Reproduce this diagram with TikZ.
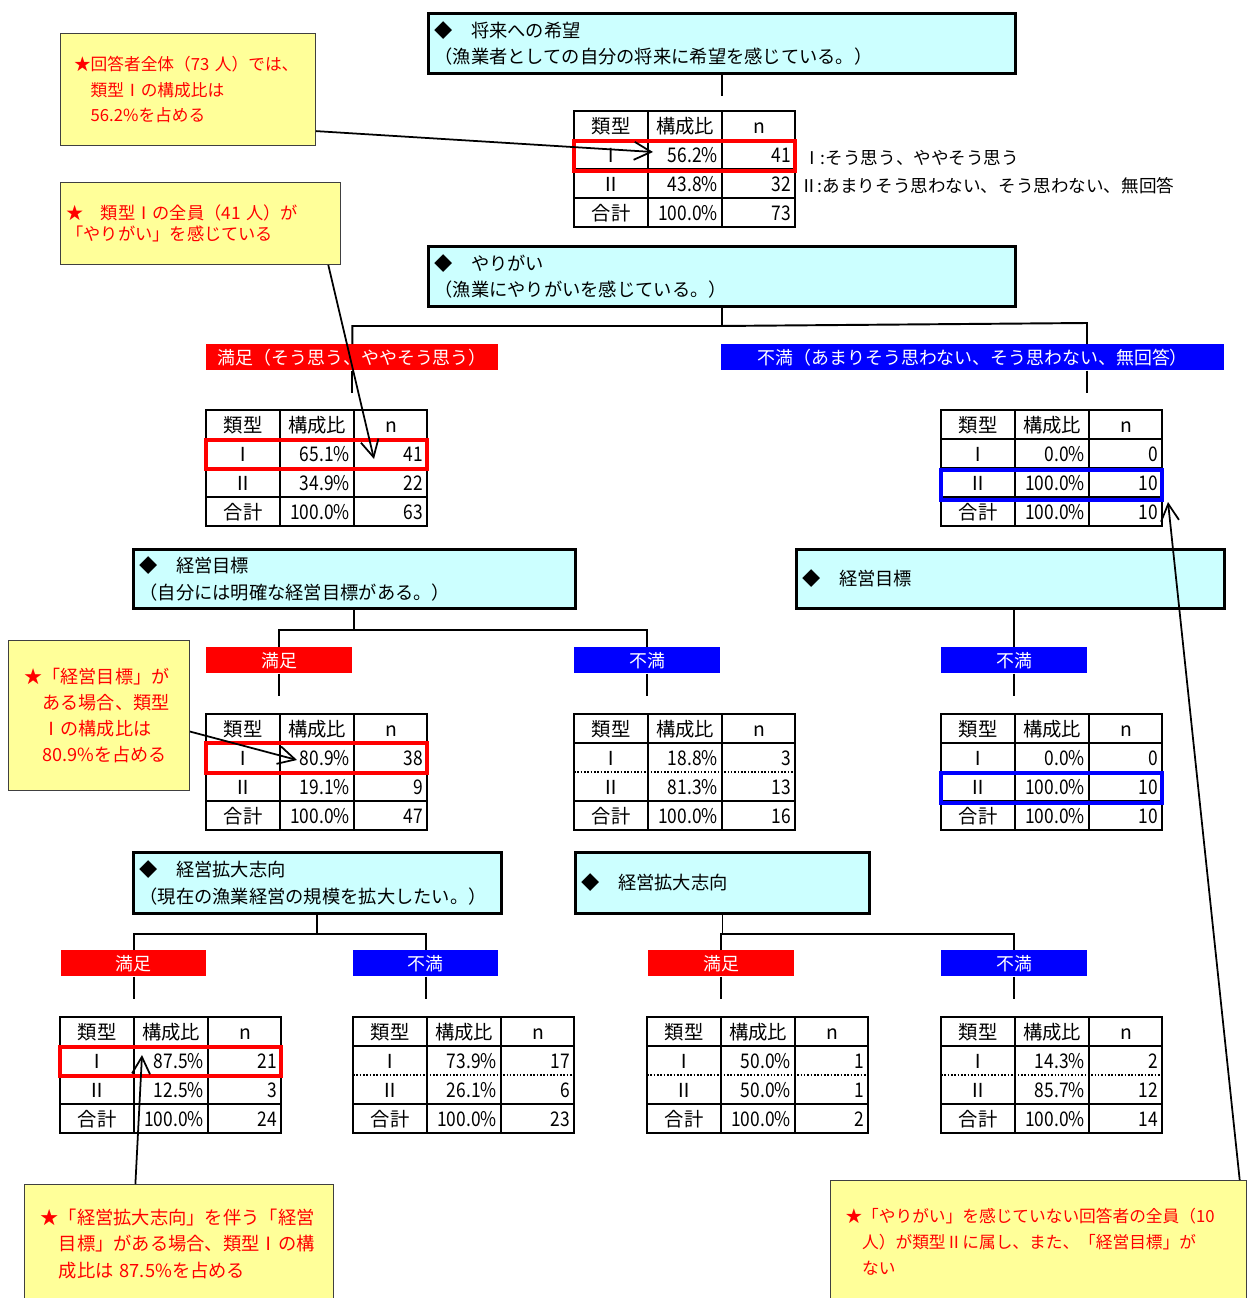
\documentclass[tikz,border=0pt]{standalone}
\usepackage{fontspec}
\setmainfont{Noto Sans CJK JP}
\newfontfamily\narrowfam{Noto Sans CJK JP}[FakeStretch=0.86]
\usepackage{tikz}
\usetikzlibrary{arrows.meta,positioning,calc}
\definecolor{HdrCyan}{HTML}{CCFFFF}
\definecolor{NoteYellow}{HTML}{FFFF99}
\definecolor{BarRed}{HTML}{FF0000}
\definecolor{BarBlue}{HTML}{0000FF}
\newcommand{\hdfnt}{\fontsize{10.4pt}{15.3pt}\selectfont}
\newcommand{\tabfnt}{\fontsize{11pt}{13pt}\selectfont}
\newcommand{\numfnt}{\narrowfam\fontsize{11.5pt}{13pt}\selectfont}
\newcommand{\notefnt}{\fontsize{9.5pt}{14.7pt}\selectfont}
\newcommand{\barfnt}{\fontsize{10.2pt}{12pt}\selectfont}
\newcommand{\ratiotbl}[9]{%
  \node[tblbox] (#1) at #2 {};
  \draw[tblrule] ($(#1.north west)+(74,0)$) -- ++(0,116)
                 ($(#1.north west)+(148,0)$) -- ++(0,116)
                 ($(#1.north west)+(0,29)$) -- ++(221,0)
                 ($(#1.north west)+(0,87)$) -- ++(221,0);
  \draw[tblrule,#3] ($(#1.north west)+(0,58)$) -- ++(221,0);
  \node[cell] (#1-k) at ($(#1.north west)+(37,22)$) {類型};
  \node[cell] (#1-r) at ($(#1.north west)+(111,22)$) {構成比};
  \node[cell] (#1-n) at ($(#1.north west)+(185,22)$) {n};
  \node[cell] (#1-1) at ($(#1.north west)+(37,51)$) {Ⅰ};
  \node[num] (#1-1p) at ($(#1.north west)+(144,51)$) {#4};
  \node[num] (#1-1n) at ($(#1.north west)+(217,51)$) {#5};
  \node[cell] (#1-2) at ($(#1.north west)+(37,80)$) {Ⅱ};
  \node[num] (#1-2p) at ($(#1.north west)+(144,80)$) {#6};
  \node[num] (#1-2n) at ($(#1.north west)+(217,80)$) {#7};
  \node[cell] (#1-3) at ($(#1.north west)+(37,109)$) {合計};
  \node[num] (#1-3p) at ($(#1.north west)+(144,109)$) {#8};
  \node[num] (#1-3n) at ($(#1.north west)+(217,109)$) {#9};
}

\begin{document}
\begin{tikzpicture}[x=0.02cm,y=-0.02cm,
    hdr/.style={draw,line width=1.7pt,fill=HdrCyan,anchor=north west,
                inner xsep=0pt,align=left,font=\hdfnt},
    lbl/.style={fill=#1,text=white,anchor=north west,minimum height=0.52cm,
                inner sep=0pt,font=\barfnt},
    tblbox/.style={draw,line width=1.4pt,anchor=north west,minimum width=4.42cm,
                   minimum height=2.32cm,inner sep=0pt,outer sep=0pt},
    tblrule/.style={line width=0.9pt},
    cell/.style={anchor=base,inner sep=0pt,font=\tabfnt},
    num/.style={cell,anchor=base east,font=\numfnt},
    hl/.style={draw=#1,line width=2.2pt},
    ln/.style={line width=1.1pt},
    co/.style={draw=black!75,line width=0.6pt,fill=NoteYellow,text=BarRed,
               anchor=north west,align=left,inner xsep=0pt,font=\notefnt},
    ar/.style={-{Straight Barb[length=3.4mm,width=3.6mm]},line width=1pt}]
\useasboundingbox (0,0) rectangle (1247,1298);

\node[co,minimum width=5.1cm,minimum height=2.24cm,text width=4.56cm] (c1) at (60,33)
  {★回答者全体（73~人）では、\\　類型Ⅰの構成比は\\　56.2\%を占める};
\node[co,minimum width=5.6cm,minimum height=1.64cm,text width=5.36cm,
      font=\fontsize{9.8pt}{11.9pt}\selectfont] (c2) at (60,182)
  {★　類型Ⅰの全員（41~人）が\\「やりがい」を感じている};
\node[co,minimum width=3.62cm,minimum height=3cm,text width=2.98cm,
      font=\fontsize{10.3pt}{14.9pt}\selectfont] (c3) at (8,640)
  {★「経営目標」が\\　ある場合、類型\\　Ⅰの構成比は\\　80.9\%を占める};
\node[co,minimum width=6.18cm,minimum height=2.38cm,text width=5.54cm,
      font=\fontsize{10.4pt}{15pt}\selectfont] (c4) at (24,1184)
  {★「経営拡大志向」を伴う「経営\\　目標」がある場合、類型Ⅰの構\\　成比は~87.5\%を占める};
\node[co,minimum width=8.32cm,minimum height=2.44cm,text width=7.72cm] (c5) at (830,1180)
  {★「やりがい」を感じていない回答者の全員（10\\　人）が類型Ⅱに属し、また、「経営目標」が\\　ない};

\node[hdr,minimum width=11.74cm,minimum height=1.2cm,text width=11.5cm] (h1) at (427,12)
  {◆　将来への希望\\（漁業者としての自分の将来に希望を感じている。）};
\node[hdr,minimum width=11.74cm,minimum height=1.2cm,text width=11.5cm] (h2) at (427,245)
  {◆　やりがい\\（漁業にやりがいを感じている。）};
\node[hdr,minimum width=8.84cm,minimum height=1.18cm,text width=8.6cm] (h3) at (132,548)
  {◆　経営目標\\（自分には明確な経営目標がある。）};
\node[hdr,minimum width=8.56cm,minimum height=1.18cm,text width=8.32cm] (h4) at (795,548)
  {◆　経営目標};
\node[hdr,minimum width=7.36cm,minimum height=1.22cm,text width=7.12cm] (h5) at (132,851)
  {◆　経営拡大志向\\（現在の漁業経営の規模を拡大したい。）};
\node[hdr,minimum width=5.88cm,minimum height=1.22cm,text width=5.64cm] (h6) at (574,851)
  {◆　経営拡大志向};

\node[lbl=BarRed,minimum width=5.84cm] (l1) at (206,344) {満足（そう思う、ややそう思う）};
\node[lbl=BarBlue,minimum width=10.06cm] (l2) at (721,344) {不満（あまりそう思わない、そう思わない、無回答）};
\node[lbl=BarRed,minimum width=2.92cm] (l3) at (206,647) {満足};
\node[lbl=BarBlue,minimum width=2.92cm] (l4) at (574,647) {不満};
\node[lbl=BarBlue,minimum width=2.92cm] (l5) at (941,647) {不満};
\node[lbl=BarRed,minimum width=2.9cm] (l6) at (61,950) {満足};
\node[lbl=BarBlue,minimum width=2.9cm] (l7) at (353,950) {不満};
\node[lbl=BarRed,minimum width=2.92cm] (l8) at (648,950) {満足};
\node[lbl=BarBlue,minimum width=2.92cm] (l9) at (941,950) {不満};

\ratiotbl{t1}{(574,111)}{}{56.2\%}{41}{43.8\%}{32}{100.0\%}{73}
\ratiotbl{t2}{(206,410)}{}{65.1\%}{41}{34.9\%}{22}{100.0\%}{63}
\ratiotbl{t3}{(941,410)}{}{0.0\%}{0}{100.0\%}{10}{100.0\%}{10}
\ratiotbl{t4}{(206,714)}{}{80.9\%}{38}{19.1\%}{9}{100.0\%}{47}
\ratiotbl{t5}{(574,714)}{densely dotted}{18.8\%}{3}{81.3\%}{13}{100.0\%}{16}
\ratiotbl{t6}{(941,714)}{}{0.0\%}{0}{100.0\%}{10}{100.0\%}{10}
\ratiotbl{t7}{(60,1017)}{}{87.5\%}{21}{12.5\%}{3}{100.0\%}{24}
\ratiotbl{t8}{(353,1017)}{densely dotted}{73.9\%}{17}{26.1\%}{6}{100.0\%}{23}
\ratiotbl{t9}{(647,1017)}{densely dotted}{50.0\%}{1}{50.0\%}{1}{100.0\%}{2}
\ratiotbl{t10}{(941,1017)}{densely dotted}{14.3\%}{2}{85.7\%}{12}{100.0\%}{14}

\node[anchor=west,inner sep=0pt,font=\fontsize{10pt}{12pt}\selectfont] (k1) at (803,158)
  {Ⅰ:そう思う、ややそう思う};
\node[anchor=west,inner sep=0pt,font=\fontsize{10pt}{12pt}\selectfont] (k2) at (800,186)
  {Ⅱ:あまりそう思わない、そう思わない、無回答};

\draw[ln] (h1.south) -- ++(0,21);
\draw[ln] (h2.south) -- ++(0,18) coordinate (j2);
\coordinate (j2r) at (1087,323);
\draw[ln] (l1.north) |- (j2) -- (j2r) -- (j2r |- l2.north);
\draw[ln] (l1.south) -- ++(0,22);
\draw[ln] (j2r |- l2.south) -- ++(0,22);
\draw[ln] (h3.south) -- ++(0,20) coordinate (j3);
\draw[ln] (l3.north) |- (j3) -| (l4.north);
\draw[ln] (l3.south) -- ++(0,22);
\draw[ln] (l4.south) -- ++(0,22);
\draw[ln] (l5.north |- h4.south) -- (l5.north);
\draw[ln] (l5.south) -- ++(0,22);
\draw[ln] (h5.south) -- ++(0,19) coordinate (j5);
\draw[ln] (l6.north) |- (j5) -| (l7.north);
\draw[ln] (l6.south) -- ++(0,22);
\draw[ln] (l7.south) -- ++(0,22);
\draw[ln] (h6.south) -- ++(0,19) coordinate (j6);
\draw[ln] (l8.north) |- (j6) -| (l9.north);
\draw[ln] (l8.south) -- ++(0,22);
\draw[ln] (l9.south) -- ++(0,22);

\draw[hl=BarRed] ($(t1.north west)+(0,30)$) rectangle ++(221,30);
\draw[hl=BarRed] ($(t2.north west)+(0,30)$) rectangle ++(221,29);
\draw[hl=BarBlue] ($(t3.north west)+(0,60)$) rectangle ++(221,30);
\draw[hl=BarRed] ($(t4.north west)+(0,29)$) rectangle ++(221,30);
\draw[hl=BarBlue] ($(t6.north west)+(0,59)$) rectangle ++(221,30);
\draw[hl=BarRed] ($(t7.north west)+(0,30)$) rectangle ++(221,29);

\coordinate (p1) at (653,152);
\coordinate (p2) at (374,459);
\coordinate (p3) at (297,760);
\coordinate (p4) at (142,1055);
\coordinate (p5) at (1168,502);
\draw[ar] (c1.-18.2) -- (p1);
\draw[ar] (c2.-18.9) -- (p2);
\draw[ar] (c3.-10.5) -- (p3);
\draw[ar] (c4.126.2) -- (p4);
\draw[ar] (c5.17.1) -- (p5);
\end{tikzpicture}
\end{document}
